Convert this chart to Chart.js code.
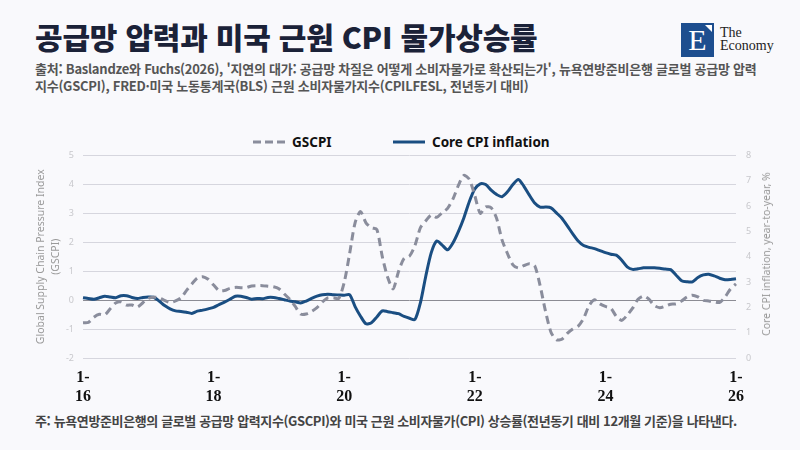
<!DOCTYPE html>
<html lang="ko">
<head>
<meta charset="utf-8">
<script src="https://cdn.jsdelivr.net/npm/chart.js@4.4.1/dist/chart.umd.min.js"></script>
<style>
  html, body { margin: 0; padding: 0; }
  body { width: 800px; height: 450px; background: #f9f9fc; position: relative; overflow: hidden;
         font-family: "Noto Sans CJK KR", "Noto Sans", sans-serif; }
  #title { position: absolute; left: 35px; top: 14px; font-size: 30px; font-weight: 900; color: #1b2238; letter-spacing: -0.2px; white-space: nowrap; }
  #sub { position: absolute; left: 35px; top: 60px; font-size: 13px; font-weight: 600; color: #555; line-height: 17px; letter-spacing: -0.25px; white-space: nowrap; }
  #logo { position: absolute; left: 681px; top: 23px; width: 33px; height: 34px; background: #1d4e8f; }
  #logo .e { position: absolute; left: 0; top: 1px; width: 33px; text-align: center; color: #fff; font-family: "Liberation Serif", serif; font-size: 30px; line-height: 32px; }
  #logo .tri { position: absolute; right: 2px; top: 2px; width: 0; height: 0; border-left: 7px solid transparent; border-top: 7px solid #fff; }
  #logotext { position: absolute; left: 720px; top: 27px; font-family: "Liberation Serif", serif; font-size: 14px; line-height: 12.5px; color: #222; }
  .leg { position: absolute; top: 133px; height: 18px; display: flex; align-items: center; font-family: "Noto Sans", sans-serif; font-weight: 700; font-size: 13.5px; color: #111; }
  .leg svg { margin-right: 7px; }
  #chartwrap { position: absolute; left: 0; top: 140px; width: 800px; height: 270px; }
  #rtitle { position: absolute; left: 766px; top: 254px; transform: translate(-50%, -50%) rotate(-90deg); white-space: nowrap;
            font-family: "Noto Sans", sans-serif; font-size: 10.5px; color: #9a9a9a; }
  #note { position: absolute; left: 35px; top: 411px; font-size: 13px; font-weight: 600; color: #444; letter-spacing: -0.38px; white-space: nowrap; }
</style>
</head>
<body>
<div id="title">공급망 압력과 미국 근원 CPI 물가상승률</div>
<div id="sub">출처: Baslandze와 Fuchs(2026), '지연의 대가: 공급망 차질은 어떻게 소비자물가로 확산되는가', 뉴욕연방준비은행 글로벌 공급망 압력<br>지수(GSCPI), FRED·미국 노동통계국(BLS) 근원 소비자물가지수(CPILFESL, 전년동기 대비)</div>
<div id="logo"><div class="e">E</div><div class="tri"></div></div>
<div id="logotext">The<br>Economy</div>
<div class="leg" style="left:253px"><svg width="32" height="4"><line x1="0" y1="2" x2="32" y2="2" stroke="#8a8d9c" stroke-width="3" stroke-dasharray="8,4"/></svg>GSCPI</div>
<div class="leg" style="left:393px"><svg width="32" height="4"><line x1="0" y1="2" x2="32" y2="2" stroke="#1a4e82" stroke-width="3"/></svg>Core CPI inflation</div>
<div id="chartwrap"><canvas id="c"></canvas></div>
<div id="rtitle">Core CPI inflation, year-to-year, %</div>
<div id="note">주: 뉴욕연방준비은행의 글로벌 공급망 압력지수(GSCPI)와 미국 근원 소비자물가(CPI) 상승률(전년동기 대비 12개월 기준)을 나타낸다.</div>
<script>
// Monthly categories: Jan 2016 .. Jan 2026
const startYear = 2016, endYear = 2026;
const months = [];
for (let y = startYear; y <= endYear; y++) {
  for (let m = 1; m <= 12; m++) {
    if (y === endYear && m > 1) break;
    months.push(y + '-' + String(m).padStart(2, '0'));
  }
}
const tickYears = ['2016', '2018', '2020', '2022', '2024', '2026'];
const tickLabels = [['1-', '16'], ['1-', '18'], ['1-', '20'], ['1-', '22'], ['1-', '24'], ['1-', '26']];

const gscpi = [
  -0.78, -0.77, -0.59, -0.49, -0.51, -0.30, -0.10, -0.06, -0.17, -0.17, -0.24, -0.09,
   0.06,  0.10,  0.08, -0.01, -0.08, -0.03,  0.08,  0.33,  0.56,  0.76,  0.81,  0.72,
   0.52,  0.33,  0.33,  0.41,  0.44,  0.43,  0.43,  0.49,  0.50,  0.50,  0.48,  0.46,
   0.39,  0.21,  0.03, -0.22, -0.48, -0.48, -0.39, -0.26, -0.06,  0.08,  0.08,  0.06,
   0.61,  1.61,  2.67,  3.06,  2.67,  2.50,  2.44,  1.50,  0.78,  0.39,  1.00,  1.44,
   1.52,  1.89,  2.50,  2.74,  2.94,  2.86,  3.02,  3.17,  3.50,  3.97,  4.31,  4.17,
   3.61,  3.00,  3.22,  3.19,  2.83,  2.08,  1.61,  1.22,  1.11,  1.19,  1.26,  1.19,
   0.50, -0.39, -1.11, -1.37, -1.35, -1.15, -1.00, -0.90, -0.63, -0.19,  0.01, -0.13,
  -0.22, -0.28, -0.56, -0.70, -0.52, -0.28,  0.03,  0.14,  0.03, -0.19, -0.26, -0.21,
  -0.14, -0.13, -0.03,  0.11,  0.17,  0.11, -0.01, -0.03, -0.06, -0.08,  0.11,  0.39,
   0.56
];
const coreCpi = [
  2.38, 2.35, 2.32, 2.38, 2.44, 2.41, 2.38, 2.46, 2.46, 2.39, 2.35, 2.39,
  2.41, 2.40, 2.25, 2.07, 1.94, 1.86, 1.84, 1.81, 1.76, 1.85, 1.89, 1.94,
  2.00, 2.11, 2.21, 2.32, 2.44, 2.44, 2.39, 2.32, 2.35, 2.34, 2.39, 2.39,
  2.35, 2.30, 2.25, 2.22, 2.17, 2.25, 2.35, 2.44, 2.50, 2.52, 2.50, 2.49,
  2.48, 2.50, 2.03, 1.65, 1.35, 1.39, 1.62, 1.86, 1.83, 1.79, 1.75, 1.64,
  1.57, 1.52, 2.18, 3.24, 4.16, 4.62, 4.46, 4.27, 4.55, 5.00, 5.54, 6.18,
  6.67, 6.88, 6.85, 6.63, 6.46, 6.37, 6.56, 6.85, 7.05, 6.79, 6.44, 6.12,
  5.96, 5.96, 5.93, 5.73, 5.52, 5.22, 4.90, 4.62, 4.44, 4.37, 4.32, 4.24,
  4.16, 4.10, 4.06, 3.86, 3.60, 3.50, 3.52, 3.56, 3.56, 3.56, 3.54, 3.51,
  3.49, 3.27, 3.05, 3.01, 3.01, 3.18, 3.28, 3.31, 3.24, 3.15, 3.09, 3.10,
  3.13
];

new Chart(document.getElementById('c'), {
  type: 'line',
  data: {
    labels: months,
    datasets: [
      { label: 'GSCPI', data: gscpi, yAxisID: 'y', borderColor: '#8a8d9c', borderWidth: 3,
        borderDash: [8, 5], pointRadius: 0, tension: 0.25, fill: false },
      { label: 'Core CPI inflation', data: coreCpi, yAxisID: 'y1', borderColor: '#1a4e82', borderWidth: 3,
        pointRadius: 0, tension: 0.25, fill: false }
    ]
  },
  options: {
    responsive: true,
    maintainAspectRatio: false,
    animation: false,
    layout: { padding: { left: 0, right: 0, top: 9, bottom: 0 } },
    plugins: { legend: { display: false }, tooltip: { enabled: false } },
    scales: {
      x: {
        grid: { display: false },
        border: { display: false },
        ticks: {
          autoSkip: false, maxRotation: 0, minRotation: 0, padding: 2,
          font: { family: '"Liberation Serif", serif', weight: 'bold', size: 16, lineHeight: 1.2 },
          color: '#111',
          callback: function (v, i) {
            const lab = months[i];
            if (!lab.endsWith('-01')) return null;
            const k = tickYears.indexOf(lab.slice(0, 4));
            return k >= 0 ? tickLabels[k] : null;
          }
        },
        afterFit: function (s) { s.height = 52; }
      },
      y: {
        position: 'left', min: -2, max: 5,
        ticks: { stepSize: 1, padding: 9, color: '#c8c8cc', font: { family: '"Noto Sans", sans-serif', size: 9 } },
        grid: { drawTicks: false, lineWidth: 1,
          color: function (ctx) { return ctx.tick && ctx.tick.value === 0 ? '#8c8c94' : '#d6d6de'; } },
        border: { display: false },
        title: { display: true, text: ['Global Supply Chain Pressure Index', '(GSCPI)'], color: '#9a9a9a',
          font: { family: '"Noto Sans", sans-serif', size: 10.5, lineHeight: 1.4 }, padding: { top: 34, bottom: 0 } },
        afterFit: function (s) { s.width = 83; }
      },
      y1: {
        position: 'right', min: 0, max: 8,
        ticks: { stepSize: 1, padding: 10, color: '#c8c8cc', font: { family: '"Noto Sans", sans-serif', size: 9 } },
        grid: { display: false, drawTicks: false },
        border: { display: false },
        afterFit: function (s) { s.width = 64; }
      }
    }
  }
});
</script>
</body>
</html>
